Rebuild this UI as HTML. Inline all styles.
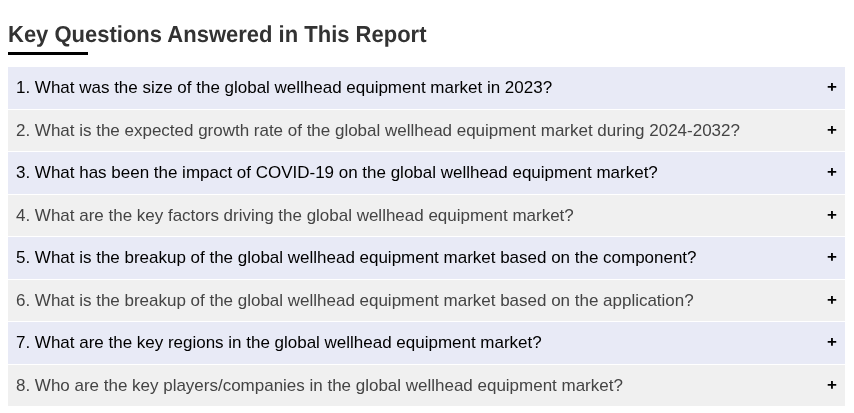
<!DOCTYPE html>
<html lang="en">
<head>
<meta charset="utf-8">
<title>Key Questions Answered in This Report</title>
<style>
html,body{margin:0;padding:0;background:#fff;}
body{width:854px;height:413px;overflow:hidden;position:relative;font-family:"Liberation Sans",Arial,Helvetica,sans-serif;}
h2{position:absolute;left:8px;top:19px;margin:0;font-size:22px;line-height:30px;font-weight:bold;color:#333;white-space:nowrap;text-rendering:geometricPrecision;transform:scaleY(1.05);transform-origin:0 7px;}
.bar{position:absolute;left:8px;top:52px;width:80px;height:3px;background:#000;}
.q{position:absolute;left:8px;width:837px;font-size:17px;letter-spacing:-0.01px;white-space:nowrap;}
.q span{position:absolute;left:8px;top:11px;line-height:20px;}
.q.o{background:#e8eaf6;color:#000;}
.q.e{background:#f0f0f0;color:#444;}
.q b{position:absolute;right:8px;top:10px;line-height:20px;color:#000;font-weight:bold;font-size:17px;text-rendering:geometricPrecision;transform:scale(1,0.9);}
</style>
</head>
<body>
<h2>Key Questions Answered in This Report</h2>
<div class="bar"></div>
<div class="q o" style="top:67px;height:42px"><span>1. What was the size of the global wellhead equipment market in 2023?</span><b>+</b></div>
<div class="q e" style="top:110px;height:41px"><span>2. What is the expected growth rate of the global wellhead equipment market during 2024-2032?</span><b>+</b></div>
<div class="q o" style="top:152px;height:42px"><span>3. What has been the impact of COVID-19 on the global wellhead equipment market?</span><b>+</b></div>
<div class="q e" style="top:195px;height:41px"><span>4. What are the key factors driving the global wellhead equipment market?</span><b>+</b></div>
<div class="q o" style="top:237px;height:42px"><span>5. What is the breakup of the global wellhead equipment market based on the component?</span><b>+</b></div>
<div class="q e" style="top:280px;height:41px"><span>6. What is the breakup of the global wellhead equipment market based on the application?</span><b>+</b></div>
<div class="q o" style="top:322px;height:42px"><span>7. What are the key regions in the global wellhead equipment market?</span><b>+</b></div>
<div class="q e" style="top:365px;height:41px"><span>8. Who are the key players/companies in the global wellhead equipment market?</span><b>+</b></div>
</body>
</html>
